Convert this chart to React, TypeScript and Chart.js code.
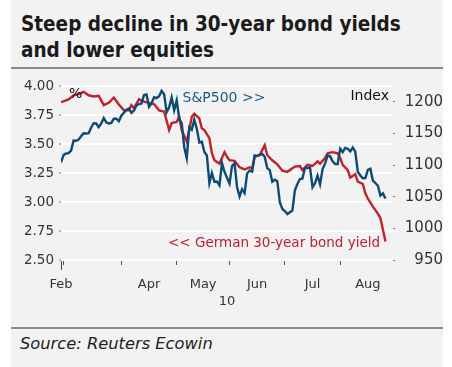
import React, { useEffect, useRef } from 'react';
import { Chart, registerables } from 'chart.js';

Chart.register(...registerables);

// S&P 500 close, one entry per weekday from 26 Feb 2010 (index 0) to 26 Aug 2010 (index 129); null = market holiday
const spx: (number | null)[] = [
  1104.5,
  1115.7, 1118.3, 1118.8, 1123.0, 1138.7, 1138.5, 1140.5, 1145.6, 1150.2, 1150.0, 1150.5, 1159.5, 1166.2, 1165.8, 1159.9,
  1165.8, 1174.2, 1167.7, 1165.7, 1166.6, 1173.2, 1173.3, 1169.4,
  1178.1, null, 1187.4, 1189.4, 1182.5, 1186.4, 1194.4, 1196.5, 1197.3, 1210.7, 1211.7, 1192.1, 1197.5, 1207.2, 1205.9,
  1208.7, 1217.3, 1212.1, 1183.7, 1191.4, 1206.8, 1186.7,
  1202.3, 1173.6, 1165.9, 1128.2, 1110.9, 1159.7, 1155.8, 1171.7, 1157.4, 1135.7, 1136.9, 1120.8, 1115.1, 1071.6, 1087.7,
  1073.7, 1074.0, 1068.0, 1103.1, 1089.4, null,
  1070.7, 1098.4, 1102.8, 1064.9, 1050.5, 1062.0, 1055.7, 1086.8, 1091.6, 1089.6, 1115.2, 1114.6, 1116.0, 1117.5, 1113.2,
  1095.3, 1092.0, 1073.7, 1076.8, 1074.6, 1041.2, 1030.7,
  1027.4, 1022.6, null, 1028.1, 1060.3, 1070.3, 1078.0, 1078.8, 1095.3, 1095.2, 1096.5, 1064.9, 1071.3, 1083.5, 1069.6,
  1093.7, 1102.7, 1115.0, 1113.8, 1106.1, 1101.5, 1101.6,
  1125.9, 1120.5, 1127.2, 1125.8, 1121.6, 1127.8, 1121.1, 1089.5, 1083.6, 1079.3, 1079.4, 1092.5, 1094.2, 1075.6, 1071.7,
  1067.4, 1051.9, 1055.3, 1047.2,
];

// German 30-year bond yield (%) at weekday indices
const yieldIdx: number[] = [
  0, 3, 5, 7, 9, 11, 13, 15, 17, 19, 21, 23, 25, 27, 28, 29, 31, 33, 35, 37, 39, 41, 43, 44, 46, 47, 48, 50, 51, 52, 53,
  55, 56, 57, 59, 60, 61, 63, 65, 66, 67, 69, 71, 73, 75, 76, 77, 79, 81, 82, 84, 86, 88, 90, 92, 93, 95, 96, 98, 100,
  102, 103, 105, 106, 108, 110, 111, 112, 114, 115, 117, 118, 120, 121, 122, 124, 126, 127, 128, 129,
];
const yieldVal: number[] = [
  3.86, 3.885, 3.92, 3.93, 3.95, 3.92, 3.91, 3.915, 3.835, 3.855, 3.9, 3.84, 3.79, 3.79, 3.835, 3.81, 3.885, 3.865, 3.855,
  3.845, 3.79, 3.78, 3.62, 3.68, 3.69, 3.735, 3.62, 3.52, 3.62, 3.735, 3.76, 3.72, 3.635, 3.62, 3.55, 3.42, 3.36, 3.33,
  3.43, 3.39, 3.36, 3.355, 3.3, 3.28, 3.3, 3.29, 3.39, 3.405, 3.49, 3.405, 3.36, 3.325, 3.27, 3.26, 3.29, 3.305, 3.31,
  3.275, 3.32, 3.31, 3.35, 3.33, 3.38, 3.42, 3.43, 3.42, 3.38, 3.32, 3.275, 3.21, 3.24, 3.175, 3.155, 3.075, 3.03, 2.96,
  2.9, 2.86, 2.76, 2.66,
];

// x axis: month boundaries (weekday index), month labels and their positions
const startTick: number[] = [0];
const monthBoundaryTicks: number[] = [1, 24, 46, 67, 89, 111];
const monthLabels: string[] = ['Feb', 'Apr', 'May', 'Jun', 'Jul', 'Aug'];
const monthLabelPos: number[] = [0, 35, 56.5, 78, 100, 122];
const yearLabel = '10';
const xMin = 0;
const xMax = 132;

const leftTicks: number[] = [2.5, 2.75, 3.0, 3.25, 3.5, 3.75, 4.0];
const rightTicks: number[] = [950, 1000, 1050, 1100, 1150, 1200];
const leftMin = 2.5;
const leftMax = 4.0;
const rightMin = 950;
const rightMax = 1225;

const BLUE = '#0d4b76';
const RED = '#c2202b';
const FONT = '"DejaVu Sans", sans-serif';

const annotations = {
  id: 'annotations',
  afterDatasetsDraw(chart: any) {
    const { ctx, chartArea } = chart;
    const { left, top, right } = chartArea;
    ctx.save();
    ctx.textBaseline = 'alphabetic';
    ctx.font = `14px ${FONT}`;
    ctx.fillStyle = '#111';
    ctx.textAlign = 'left';
    ctx.fillText('%', left + 8, top + 12);
    ctx.textAlign = 'right';
    ctx.fillText('Index', right - 4, top + 13.5);
    ctx.textAlign = 'left';
    ctx.fillStyle = '#1b5a87';
    ctx.fillText('S&P500 >>', left + 121.5, top + 15.5);
    ctx.fillStyle = RED;
    ctx.font = `13.5px ${FONT}`;
    ctx.fillText('<< German 30-year bond yield', left + 107, top + 160.5);
    ctx.restore();
  },
};

function LineChart() {
  const ref = useRef<HTMLCanvasElement | null>(null);
  useEffect(() => {
    if (!ref.current) return;
    const chart = new Chart(ref.current, {
      type: 'line',
      data: {
        datasets: [
          {
            label: 'S&P500',
            data: spx.map((v, i) => ({ x: i, y: v })) as any,
            borderColor: BLUE,
            borderWidth: 2.4,
            pointRadius: 0,
            spanGaps: true,
            yAxisID: 'yR',
            xAxisID: 'x',
          },
          {
            label: 'German 30-year bond yield',
            data: yieldIdx.map((x, i) => ({ x, y: yieldVal[i] })) as any,
            borderColor: RED,
            borderWidth: 2.4,
            pointRadius: 0,
            yAxisID: 'yL',
            xAxisID: 'x',
          },
        ],
      },
      options: {
        responsive: false,
        animation: false,
        events: [],
        layout: { padding: { top: 16, left: 0, right: 0, bottom: 0 } },
        plugins: { legend: { display: false }, tooltip: { enabled: false } },
        scales: {
          x: {
            type: 'linear',
            position: 'bottom',
            min: xMin,
            max: xMax,
            afterBuildTicks: (s: any) => {
              s.ticks = monthBoundaryTicks.map((v) => ({ value: v }));
            },
            ticks: { display: false },
            grid: { display: true, drawOnChartArea: false, tickLength: 5, tickColor: '#555', tickWidth: 1 },
            border: { display: false },
            afterFit: (s: any) => {
              s.height = 0;
            },
          },
          xs: {
            type: 'linear',
            position: 'bottom',
            min: xMin,
            max: xMax,
            afterBuildTicks: (s: any) => {
              s.ticks = startTick.map((v) => ({ value: v }));
            },
            ticks: { display: false },
            grid: { display: true, drawOnChartArea: false, tickLength: 10, tickColor: '#444', tickWidth: 1 },
            border: { display: false },
            afterFit: (s: any) => {
              s.height = 0;
            },
          },
          xm: {
            type: 'linear',
            position: 'bottom',
            min: xMin,
            max: xMax,
            afterBuildTicks: (s: any) => {
              s.ticks = monthLabelPos.map((v) => ({ value: v }));
            },
            ticks: {
              autoSkip: false,
              maxRotation: 0,
              padding: 17,
              color: '#333',
              font: { family: FONT, size: 13 },
              callback: (_v: any, i: number) => monthLabels[i],
            },
            grid: { display: false, drawTicks: false },
            border: { display: false },
            title: {
              display: true,
              text: yearLabel,
              color: '#333',
              font: { family: FONT, size: 13 },
              padding: { top: 0, bottom: 11 },
            },
            afterFit: (s: any) => {
              s.height = 60;
            },
          },
          yL: {
            type: 'linear',
            position: 'left',
            min: leftMin,
            max: leftMax,
            afterBuildTicks: (s: any) => {
              s.ticks = leftTicks.map((v) => ({ value: v }));
            },
            ticks: {
              padding: 5,
              color: '#333',
              font: { family: FONT, size: 13.5 },
              callback: (v: any) => Number(v).toFixed(2),
            },
            grid: { color: '#ffffff', lineWidth: 2, tickLength: 2, tickColor: '#777', tickWidth: 1 },
            border: { display: false },
            afterFit: (s: any) => {
              s.width = 50;
            },
          },
          yR: {
            type: 'linear',
            position: 'right',
            min: rightMin,
            max: rightMax,
            afterBuildTicks: (s: any) => {
              s.ticks = rightTicks.map((v) => ({ value: v }));
            },
            ticks: {
              padding: 4,
              crossAlign: 'far',
              color: '#333',
              font: { family: FONT, size: 15 },
              callback: (v: any) => String(v),
            },
            grid: { drawOnChartArea: false, tickLength: 2, tickColor: '#777', tickWidth: 1 },
            border: { display: false },
            afterFit: (s: any) => {
              s.width = 50;
            },
          },
        },
      } as any,
      plugins: [annotations],
    });
    return () => chart.destroy();
  }, []);
  return <canvas ref={ref} width={432} height={250} style={{ display: 'block' }} />;
}

export default function App() {
  return (
    <div style={{ position: 'fixed', left: 0, top: 0, width: 452, height: 367, background: '#ffffff' }}>
      <div style={{ position: 'absolute', left: 11, top: 0, width: 432, height: 367, background: '#f2f2f2' }} />
      <div
        style={{
          position: 'absolute',
          left: 21,
          top: 12,
          fontFamily: '"DejaVu Sans Condensed", "DejaVu Sans", sans-serif',
          fontWeight: 'bold',
          fontSize: 20.5,
          lineHeight: '25.6px',
          color: '#1a1a1a',
          whiteSpace: 'nowrap',
        }}
      >
        Steep decline in 30-year bond yields
        <br />
        and lower equities
      </div>
      <div style={{ position: 'absolute', left: 11, top: 67, width: 432, height: 2, background: '#8a8a8a' }} />
      <div style={{ position: 'absolute', left: 11, top: 70 }}>
        <LineChart />
      </div>
      <div style={{ position: 'absolute', left: 11, top: 327, width: 432, height: 2, background: '#8a8a8a' }} />
      <div
        style={{
          position: 'absolute',
          left: 20,
          top: 335,
          fontFamily: FONT,
          fontStyle: 'italic',
          fontSize: 16.3,
          lineHeight: '18px',
          color: '#222',
          whiteSpace: 'nowrap',
        }}
      >
        Source: Reuters Ecowin
      </div>
    </div>
  );
}
